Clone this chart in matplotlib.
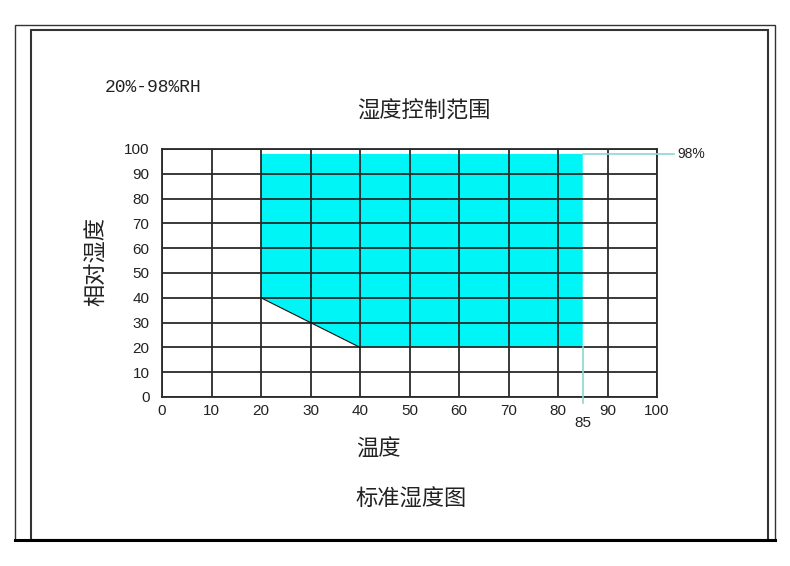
import matplotlib
matplotlib.use("Agg")
import matplotlib.pyplot as plt
from matplotlib.patches import Polygon, Rectangle
from matplotlib.lines import Line2D

plt.rcParams['font.family'] = ['Noto Sans CJK SC', 'DejaVu Sans']

# region of controllable humidity (temperature, relative humidity)
temp_bounds = [20, 85, 85, 40, 20]
rh_bounds = [98, 98, 20, 20, 40]
x_ticks = [0, 10, 20, 30, 40, 50, 60, 70, 80, 90, 100]
y_ticks = [0, 10, 20, 30, 40, 50, 60, 70, 80, 90, 100]
rh_max = 98
temp_max = 85

W, H = 790, 566


def fx(x):
    return x / W


def fy(y):
    return 1 - y / H


fig = plt.figure(figsize=(W / 100, H / 100), dpi=100)

# double frame around the figure
fig.patches.append(Rectangle((fx(15), fy(540)), 760 / W, 515 / H, transform=fig.transFigure,
                             fill=False, ec="#333333", lw=1.0))
fig.patches.append(Rectangle((fx(31), fy(540)), 737 / W, 510 / H, transform=fig.transFigure,
                             fill=False, ec="#333333", lw=1.5))
fig.lines.append(Line2D([fx(15), fx(775)], [fy(540), fy(540)], transform=fig.transFigure,
                        color="black", lw=2.2))

ax = fig.add_axes([fx(162), fy(397), (657 - 162) / W, (397 - 149) / H])
ax.set_xlim(0, 100)
ax.set_ylim(0, 100)

ax.add_patch(Polygon(list(zip(temp_bounds, rh_bounds)), closed=True,
                     fc="#00F6F6", ec="none", zorder=1))
ax.plot([temp_bounds[3], temp_bounds[4]], [rh_bounds[3], rh_bounds[4]],
        color="#111111", lw=0.8, zorder=3)

for v in x_ticks:
    ax.axvline(v, color="#2a2a2a", lw=1.3, zorder=2)
for v in y_ticks:
    ax.axhline(v, color="#2a2a2a", lw=1.3, zorder=2)
for s in ax.spines.values():
    s.set_color("#2a2a2a")
    s.set_linewidth(1.3)

# markers for 98% and 85
ax.plot([temp_max, 103.5], [rh_max, rh_max], color="#8CD6D6", lw=1.2, clip_on=False, zorder=4)
ax.text(104.2, rh_max, "98%", ha="left", va="center", fontsize=10,
        family="Liberation Sans", color="#222222")
ax.plot([temp_max, temp_max], [20, -2.5], color="#8CD6D6", lw=1.2, clip_on=False, zorder=4)
ax.text(temp_max, -10.3, "85", ha="center", va="center", fontsize=11,
        family="Liberation Sans", color="#222222")

ax.set_xticks(x_ticks)
ax.set_yticks(y_ticks)
ax.tick_params(length=0, labelsize=11, colors="#222222")
ax.tick_params(axis="x", pad=5)
ax.tick_params(axis="y", pad=9)
for lab in ax.get_xticklabels() + ax.get_yticklabels():
    lab.set_family("Liberation Sans")

fig.text(fx(153), fy(88), "20%-98%RH", ha="center", va="center", fontsize=13,
         family="Liberation Mono", color="#222222")
fig.text(fx(424), fy(111), "湿度控制范围", ha="center", va="center", fontsize=16, color="#222222")
fig.text(fx(97), fy(262), "相对湿度", ha="center", va="center", fontsize=16,
         rotation=90, color="#222222")
fig.text(fx(378), fy(449), "温度", ha="center", va="center", fontsize=16, color="#222222")
fig.text(fx(411), fy(499), "标准湿度图", ha="center", va="center", fontsize=16, color="#222222")

fig.savefig("out.png", dpi=100)
